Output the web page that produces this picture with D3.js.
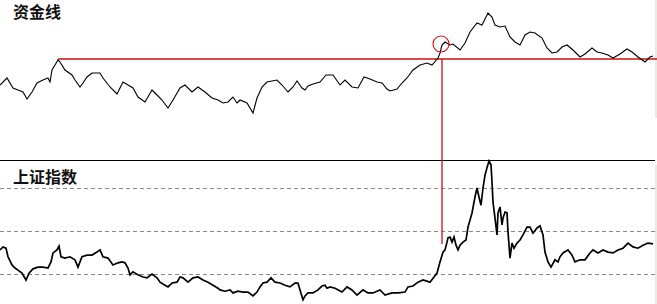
<!DOCTYPE html>
<html>
<head>
<meta charset="utf-8">
<script src="https://cdn.jsdelivr.net/npm/d3@7"></script>
<style>
  html, body { margin: 0; padding: 0; background: #fff; }
  svg { display: block; }
  .label { font-family: "Noto Sans CJK SC", sans-serif; font-size: 16px; font-weight: 700; fill: #111; }
</style>
</head>
<body>
<svg width="657" height="304"></svg>
<script>
// top panel: 资金线 (period, value)
const fundPeriods = [0,7,13,18,23,27,32,37,43,48,50,52,55,58,60,65,72,75,80,83,87,92,100,103,110,117,123,128,133,138,145,152,157,162,168,173,180,185,192,198,205,212,218,223,228,233,237,240,247,253,257,262,267,272,277,282,288,293,297,302,305,308,313,320,326,333,340,345,352,358,364,370,377,382,387,390,397,402,407,413,420,427,432,438,440,442,445,450,453,460,465,470,477,482,488,492,495,500,505,510,515,520,525,530,535,542,547,552,557,562,567,573,580,585,592,597,602,608,613,620,627,632,638,645,650,653];
const fundValues = [33,40,30,28,26,19,26,35,38,40,36,48,53,58,56,48,43,38,31,35,41,45,45,40,31,24,36,33,30,21,16,28,23,18,10,18,30,33,26,31,26,20,18,15,16,21,15,18,15,5,20,31,36,37,38,33,26,31,37,30,28,32,34,36,43,43,33,38,31,30,41,39,36,35,29,27,29,35,40,48,53,55,53,60,65,73,76,73,74,68,75,86,95,93,105,101,93,91,92,81,76,73,83,86,85,80,70,65,66,71,73,68,61,64,70,66,65,63,60,64,69,66,61,56,61,62];

// bottom panel: 上证指数 (period, index)
const indexPeriods = [0,3,6,8,12,15,18,22,26,29,33,38,43,48,51,53,57,59,61,65,70,75,78,82,87,92,97,100,103,108,113,118,122,125,128,130,133,138,143,147,152,157,160,165,168,172,177,180,183,188,193,198,203,208,213,218,220,225,230,233,238,243,248,253,257,260,263,267,271,275,280,285,290,295,298,300,303,305,308,313,318,322,325,327,330,335,342,347,352,357,363,368,373,380,385,392,398,405,408,413,418,423,430,434,437,440,443,445,447,448,450,452,454,456,458,460,463,466,468,472,475,477,479,481,483,485,487,489,491,492,493,495,497,498,500,502,503,505,507,508,510,512,514,517,520,523,527,530,533,537,540,543,545,548,551,555,558,560,563,568,572,575,580,585,590,593,598,603,608,613,618,623,628,633,638,643,648,653];
const indexValues = [2560,2630,2600,2400,2210,2140,2090,2020,1860,2020,2120,2160,2160,2140,2280,2490,2560,2650,2400,2370,2400,2330,2160,2400,2440,2440,2510,2560,2400,2370,2210,2260,2280,2260,2140,1980,2050,1980,1930,1910,2000,1910,1810,1740,1700,1790,1810,1930,1910,1810,1910,1930,1860,1810,1740,1670,1630,1600,1630,1560,1600,1580,1580,1490,1580,1700,1790,1810,1910,1810,1790,1740,1700,1790,1790,1630,1400,1490,1560,1560,1630,1720,1740,1670,1700,1670,1580,1700,1630,1510,1630,1560,1560,1630,1510,1560,1560,1580,1700,1720,1810,1860,1810,1930,2020,2280,2510,2560,2740,2840,2860,2740,2860,2670,2560,2670,2740,2790,3090,3420,3790,4000,3790,3600,4000,4300,4470,4630,4540,4140,3670,3300,2910,3420,3560,3140,3300,3440,3420,2980,2370,2720,2600,2720,2790,2910,3090,3090,2950,3070,3120,2910,2510,2280,2160,2330,2280,2400,2490,2560,2440,2280,2330,2330,2490,2560,2490,2560,2510,2490,2560,2600,2720,2630,2600,2670,2720,2700];
const indexGrid = [2000, 3000, 4000];

// annotation: breakout level on 资金线
const fundLevel = 59;
const levelStart = 58;
const breakPeriod = 442;
const breakIndex = 2700;

const svg = d3.select("svg");
const W = 657, H = 304;
const plotRight = 655;

const x = d3.scaleLinear().domain([0, 655]).range([0, 655]);
const yFund = d3.scaleLinear().domain([0, 110]).range([118, 8]);
const yIndex = d3.scaleLinear().domain([1000, 5000]).range([317, 145]);

// light frame strip at the right edge
svg.append("rect").attr("x", plotRight).attr("y", 0).attr("width", W - plotRight).attr("height", 118).attr("fill", "#ebeae3");
svg.append("rect").attr("x", plotRight).attr("y", 165).attr("width", W - plotRight).attr("height", H - 165).attr("fill", "#ebeae3");

// panel separator
svg.append("line")
  .attr("x1", 0).attr("x2", plotRight)
  .attr("y1", 160.5).attr("y2", 160.5)
  .attr("stroke", "#000").attr("stroke-width", 1.2);

// dashed grid in index panel
svg.append("g")
  .selectAll("line")
  .data(indexGrid)
  .join("line")
  .attr("x1", 0).attr("x2", plotRight)
  .attr("y1", (d) => Math.round(yIndex(d)) + 0.5)
  .attr("y2", (d) => Math.round(yIndex(d)) + 0.5)
  .attr("stroke", "#888")
  .attr("stroke-dasharray", "4,3");

const fund = fundPeriods.map((p, i) => [p, fundValues[i]]);
const index = indexPeriods.map((p, i) => [p, indexValues[i]]);

// red annotation: level line, vertical cross, circle
svg.append("line")
  .attr("x1", x(levelStart)).attr("x2", W)
  .attr("y1", yFund(fundLevel)).attr("y2", yFund(fundLevel))
  .attr("stroke", "#cc1010").attr("stroke-width", 1.3);

svg.append("line")
  .attr("x1", x(breakPeriod)).attr("x2", x(breakPeriod))
  .attr("y1", yFund(fundLevel)).attr("y2", yIndex(breakIndex))
  .attr("stroke", "#cc1010").attr("stroke-width", 1.3);

svg.append("path")
  .attr("d", d3.line().x((d) => x(d[0])).y((d) => yFund(d[1]))(fund))
  .attr("fill", "none")
  .attr("stroke", "#000")
  .attr("stroke-width", 1.1);

svg.append("path")
  .attr("d", d3.line().x((d) => x(d[0])).y((d) => yIndex(d[1]))(index))
  .attr("fill", "none")
  .attr("stroke", "#000")
  .attr("stroke-width", 1.7);

svg.append("circle")
  .attr("cx", x(441))
  .attr("cy", yFund(74))
  .attr("r", 8)
  .attr("fill", "none")
  .attr("stroke", "#cc1010")
  .attr("stroke-width", 1.1);

// panel titles
svg.append("text").attr("class", "label").attr("x", 13).attr("y", 18).text("资金线");
svg.append("text").attr("class", "label").attr("x", 13).attr("y", 183).text("上证指数");
</script>
</body>
</html>
